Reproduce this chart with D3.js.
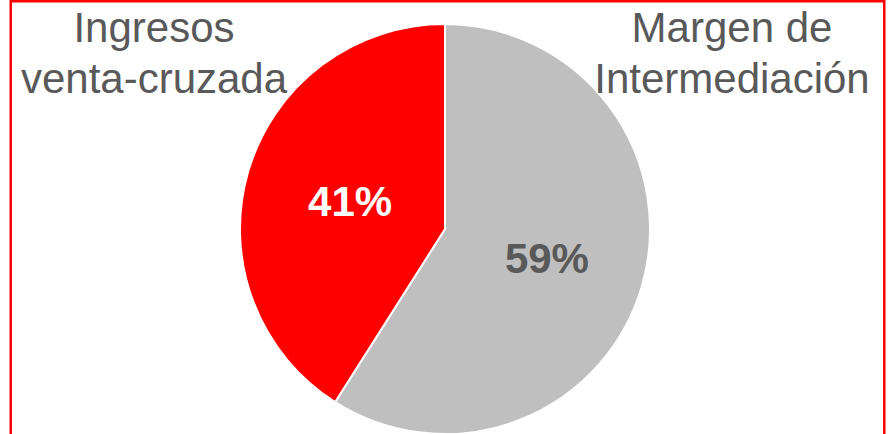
<!DOCTYPE html>
<html>
<head>
<meta charset="utf-8">
<script src="https://cdn.jsdelivr.net/npm/d3@7"></script>
<style>
  html, body { margin: 0; padding: 0; background: #ffffff; }
  svg { display: block; }
</style>
</head>
<body>
<svg id="chart" width="888" height="434"></svg>
<script>
// Revenue split
const categories = ["Margen de Intermediación", "Ingresos venta-cruzada"];
const shares = [59, 41];
const sliceColors = ["#bfbfbf", "#ff0000"];
const valueColors = ["#595959", "#ffffff"];
const titleLines = [["Margen de", "Intermediación"], ["Ingresos", "venta-cruzada"]];

const width = 888, height = 434;
const svg = d3.select("#chart");

// outer frame
svg.append("rect")
  .attr("x", 10.75).attr("y", 1.25)
  .attr("width", 873.5).attr("height", 460)
  .attr("fill", "none")
  .attr("stroke", "#ff0000")
  .attr("stroke-width", 2.5);

const data = categories.map((c, i) => ({ name: c, value: shares[i], i }));

const cx = 445, cy = 229, radius = 205;

const pie = d3.pie().sort(null).value(d => d.value);
const arc = d3.arc().innerRadius(0).outerRadius(radius);
const labelArc = d3.arc().innerRadius(radius * 0.5).outerRadius(radius * 0.5);

const g = svg.append("g").attr("transform", `translate(${cx},${cy})`);
const arcs = pie(data);

g.selectAll("path.slice")
  .data(arcs)
  .join("path")
  .attr("class", "slice")
  .attr("d", arc)
  .attr("fill", d => sliceColors[d.data.i])
  .attr("stroke", "#ffffff")
  .attr("stroke-width", 2);

g.selectAll("text.value")
  .data(arcs)
  .join("text")
  .attr("class", "value")
  .attr("transform", d => {
    const [x, y] = labelArc.centroid(d);
    return `translate(${x + 3.5},${y})`;
  })
  .attr("text-anchor", "middle")
  .attr("dy", "0.36em")
  .attr("font-family", "'Liberation Sans', Arial, sans-serif")
  .attr("font-weight", "bold")
  .attr("font-size", 42)
  .attr("fill", d => valueColors[d.data.i])
  .text(d => d3.format("d")(d.data.value) + "%");

// category titles in the upper corners
const titlePos = [{ x: 732, y: 42 }, { x: 154, y: 42 }];
titleLines.forEach((lines, i) => {
  const t = svg.append("text")
    .attr("text-anchor", "middle")
    .attr("font-family", "'Liberation Sans', Arial, sans-serif")
    .attr("font-size", 42)
    .attr("fill", "#595959");
  lines.forEach((line, k) => {
    t.append("tspan")
      .attr("x", titlePos[i].x)
      .attr("y", titlePos[i].y + k * 50.5)
      .text(line);
  });
});
</script>
</body>
</html>
